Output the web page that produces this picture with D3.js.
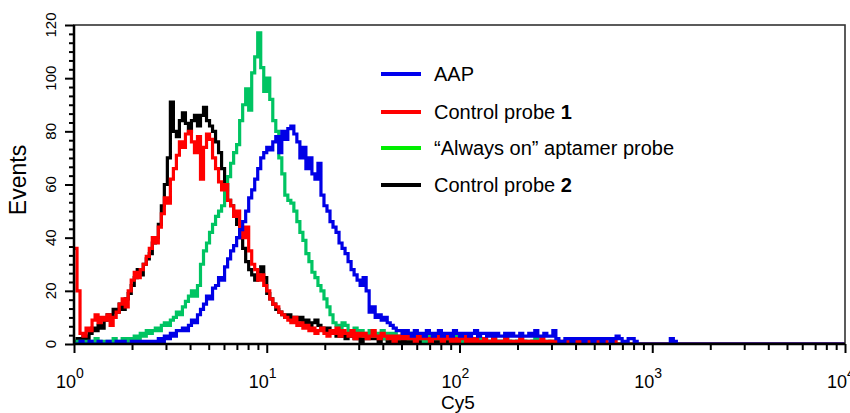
<!DOCTYPE html>
<html>
<head>
<meta charset="utf-8">
<script src="https://cdn.jsdelivr.net/npm/d3@7"></script>
<style>
  body { margin: 0; background: #fff; }
  svg { display: block; font-family: "Liberation Sans", Arial, sans-serif; }
</style>
</head>
<body>
<div id="chart"></div>
<script>
// histogram: 256 channels over 4 decades (64 channels per decade), counts per channel
const channelsPerDecade = 64;

const legendNames = ["AAP", "Control probe ", "“Always on” aptamer probe", "Control probe "];
const legendBold = ["", "1", "", "2"];
const xTickExponents = [0, 1, 2, 3, 4];
const yTickValues = [0, 20, 40, 60, 80, 100, 120];

const aap = [
  0,0,1,0,0,1,0,0,1,0,
  0,1,0,0,1,0,1,0,0,1,
  1,0,1,1,0,1,1,1,2,1,
  3,2,4,3,5,5,6,5,7,9,
  8,11,13,15,18,17,21,22,25,24,
  29,32,35,37,40,43,46,50,55,58,
  62,66,70,72,74,73,76,78,72,80,
  77,81,82,79,76,70,74,66,70,64,
  62,68,56,52,50,46,44,42,38,36,
  34,31,28,26,24,22,25,20,12,14,
  10,11,9,10,8,7,6,5,5,4,
  5,4,3,5,4,4,3,5,4,3,
  4,5,3,4,4,3,5,4,3,4,
  4,3,4,5,3,4,4,3,4,3,
  4,3,3,4,3,4,3,3,4,3,
  3,4,3,5,3,3,4,3,3,5,
  2,1,1,2,2,1,2,2,2,1,
  2,2,1,2,2,1,2,2,1,2,
  3,2,1,0,2,2,1,0,0,0,
  0,0,0,0,0,0,0,0,2,1,
  0
];

const control1 = [
  36,20,4,3,6,5,9,11,8,10,
  9,11,7,10,12,15,17,14,20,24,
  27,25,28,30,33,36,40,38,44,49,
  55,53,62,66,71,76,74,79,80,76,
  72,78,62,74,79,77,70,66,61,58,
  60,54,52,48,50,44,40,44,35,30,
  28,24,26,22,20,17,15,14,12,11,
  10,9,8,10,7,8,6,7,5,6,
  4,5,6,4,3,5,4,6,3,5,
  4,3,5,2,4,3,4,2,3,5,
  3,2,4,3,2,3,1,3,2,4,
  2,3,2,1,3,2,3,2,1,2,
  3,2,1,2,3,1,2,1,2,3,
  1,2,1,2,1,0,2,1,1,2,
  1,0,1,2,1,1,0,1,2,1,
  0,1,1,0,1,2,1,0,1,0,
  1,0,1,1,2,1,0,1,0,1,
  0,1,0,1,0,2,1,0,0,1,
  0
];

const alwaysOn = [
  0,1,0,1,1,0,1,2,1,1,
  0,1,1,2,1,1,2,1,2,2,
  3,2,4,3,5,4,5,6,5,7,
  8,7,9,10,12,11,14,16,18,20,
  18,22,30,35,38,42,45,48,50,52,
  58,63,68,72,75,84,90,96,88,102,
  108,117,104,95,100,92,84,80,70,64,
  56,54,53,50,46,42,39,34,31,27,
  25,22,20,17,14,11,8,7,6,8,
  7,5,4,6,4,5,3,4,5,3,
  4,3,5,2,4,3,4,2,3,4,
  3,2,4,3,2,3,1,2,3,2,
  2,3,1,2,2,1,3,1,2,1,
  2,1,2,1,1,2,1,0,1,2,
  1,1,0,2,1,0,1,1,0,1,
  1,0,1,2,0,1,0,1,0,0,
  1,0,0,1,0,1,0,0,1,0,
  0
];

const control2 = [
  1,2,1,3,2,4,6,5,7,6,
  9,11,10,13,12,15,13,17,19,22,
  25,28,26,30,32,34,38,40,45,52,
  60,70,91,80,78,84,87,83,80,84,
  86,82,86,89,84,82,80,76,72,66,
  60,54,52,48,45,40,36,31,28,26,
  24,27,29,25,19,17,15,13,12,11,
  10,11,9,10,9,10,8,9,7,8,
  9,7,6,5,6,4,5,3,4,3,
  2,3,4,2,3,1,2,3,2,4,
  2,1,3,2,1,2,3,1,2,1,
  2,1,0,2,1,1,2,0,1,1,
  0,1,2,1,0,1,1,0,2,1,
  1,0,1,0,2,1,0,1,0,1,
  0,1,0,1,1,0,0,1,0,1,
  0,0,1,0,0,1,0,0,1,0,
  0
];

const series = [
  { key: "control2", values: control2, color: "#000000" },
  { key: "alwaysOn", values: alwaysOn, color: "#00c462" },
  { key: "control1", values: control1, color: "#ff0000" },
  { key: "aap", values: aap, color: "#0000e6" }
];
const legendColors = ["#0000ee", "#ff0000", "#00ee00", "#000000"];

const width = 850, height = 413;
const plot = { left: 74, right: 845, top: 25, bottom: 344 };

const svg = d3.select("#chart").append("svg")
  .attr("width", width)
  .attr("height", height);

const x = d3.scaleLog().domain([1, 1e4]).range([plot.left, plot.right]);
const y = d3.scaleLinear().domain([0, 120]).range([plot.bottom, plot.top]);

svg.append("clipPath").attr("id", "clip")
  .append("rect")
  .attr("x", plot.left).attr("y", plot.top - 2)
  .attr("width", plot.right - plot.left).attr("height", plot.bottom - plot.top + 2);

// histogram lines
const line = d3.line()
  .x(d => x(d[0]))
  .y(d => y(d[1]))
  .curve(d3.curveStepAfter);

const toPoints = vals => {
  const pts = vals.map((v, i) => [Math.pow(10, i / channelsPerDecade), v]);
  pts.push([Math.pow(10, vals.length / channelsPerDecade), 0]);
  pts.push([1e4, 0]);
  return pts;
};

svg.append("g")
  .attr("clip-path", "url(#clip)")
  .selectAll("path")
  .data(series)
  .join("path")
    .attr("fill", "none")
    .attr("stroke", d => d.color)
    .attr("stroke-width", 3.2)
    .attr("stroke-linejoin", "miter")
    .attr("d", d => line(toPoints(d.values)));

// frame
svg.append("rect")
  .attr("x", plot.left).attr("y", plot.top)
  .attr("width", plot.right - plot.left).attr("height", plot.bottom - plot.top)
  .attr("fill", "none")
  .attr("stroke", "#333")
  .attr("stroke-width", 1.6);

// y axis
const yMinor = d3.range(0, 120, 20 / 6).filter(v => v % 20 > 0.01);
svg.append("g")
  .attr("transform", `translate(${plot.left},0)`)
  .call(d3.axisLeft(y).tickValues(yMinor).tickSize(5).tickFormat(""))
  .call(g => g.select(".domain").remove())
  .call(g => g.selectAll("line").attr("stroke-width", 2));
svg.append("g")
  .attr("transform", `translate(${plot.left},0)`)
  .call(d3.axisLeft(y).tickValues(yTickValues).tickSize(9).tickFormat(""))
  .call(g => g.select(".domain").attr("stroke-width", 2.5).attr("d", `M0,${plot.top}V${plot.bottom}`))
  .call(g => g.selectAll("line").attr("stroke-width", 2));

svg.append("g")
  .selectAll("text")
  .data(yTickValues)
  .join("text")
    .attr("transform", d => `translate(${plot.left - 18},${y(d)}) rotate(-90)`)
    .attr("text-anchor", "middle")
    .attr("font-size", 15)
    .text(d => d);

// x axis
const xMinor = [];
xTickExponents.slice(0, -1).forEach(e => {
  for (let m = 2; m <= 9; m++) xMinor.push(m * Math.pow(10, e));
});
svg.append("g")
  .attr("transform", `translate(0,${plot.bottom})`)
  .call(d3.axisBottom(x).tickValues(xMinor).tickSize(6).tickFormat(""))
  .call(g => g.select(".domain").remove())
  .call(g => g.selectAll("line").attr("stroke-width", 2));
svg.append("g")
  .attr("transform", `translate(0,${plot.bottom})`)
  .call(d3.axisBottom(x).tickValues(xTickExponents.map(e => Math.pow(10, e))).tickSize(9).tickFormat(""))
  .call(g => g.select(".domain").attr("stroke-width", 2.5).attr("d", `M${plot.left},0H${plot.right}`))
  .call(g => g.selectAll("line").attr("stroke-width", 2));

const xLabels = svg.append("g")
  .selectAll("text")
  .data(xTickExponents)
  .join("text")
    .attr("x", d => x(Math.pow(10, d)) - 4)
    .attr("y", 388)
    .attr("text-anchor", "middle")
    .attr("font-size", 18);
xLabels.append("tspan").text("10");
xLabels.append("tspan")
  .attr("dy", -10)
  .attr("font-size", 14)
  .text(d => d);

// axis titles
svg.append("text")
  .attr("transform", `translate(26,180) rotate(-90)`)
  .attr("text-anchor", "middle")
  .attr("font-size", 23)
  .text("Events");

svg.append("text")
  .attr("x", 458)
  .attr("y", 409)
  .attr("text-anchor", "middle")
  .attr("font-size", 19)
  .text("Cy5");

// legend
const legend = svg.append("g")
  .selectAll("g")
  .data(legendNames)
  .join("g")
    .attr("transform", (d, i) => `translate(381,${[74, 112, 148, 185][i]})`);
legend.append("line")
  .attr("x1", 0).attr("x2", 40)
  .attr("stroke", (d, i) => legendColors[i])
  .attr("stroke-width", 4);
const legendText = legend.append("text")
  .attr("x", 53)
  .attr("dy", "0.36em")
  .attr("font-size", 20);
legendText.append("tspan").text(d => d);
legendText.append("tspan")
  .attr("font-weight", "bold")
  .text((d, i) => legendBold[i]);
</script>
</body>
</html>
